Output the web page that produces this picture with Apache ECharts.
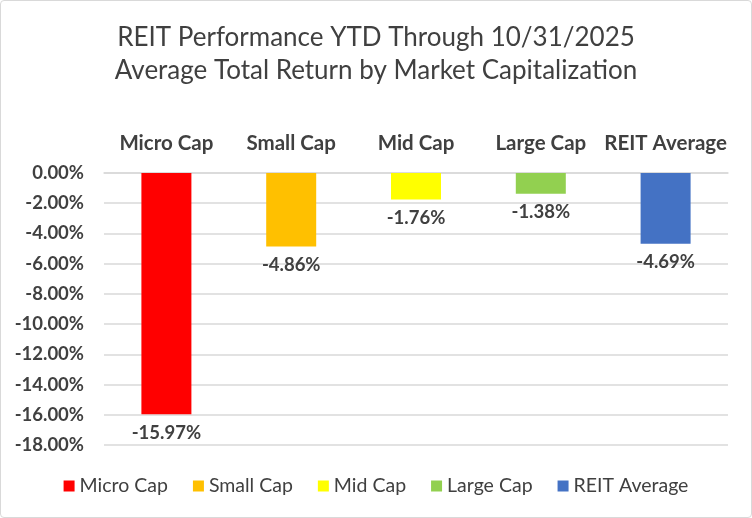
<!DOCTYPE html>
<html>
<head>
<meta charset="utf-8">
<script src="https://cdn.jsdelivr.net/npm/echarts@6/dist/echarts.min.js"></script>
<style>
html,body{margin:0;padding:0;background:#fff;}
#wrap{position:absolute;left:0;top:0;width:750px;height:516px;border:1px solid #d9d9d9;border-radius:4px;}
#chart{width:750px;height:516px;}
</style>
</head>
<body>
<div id="wrap"><div id="chart"></div></div>
<script>
const categories = ['Micro Cap', 'Small Cap', 'Mid Cap', 'Large Cap', 'REIT Average'];
const values = [-15.97, -4.86, -1.76, -1.38, -4.69];
const colors = ['#ff0000', '#ffc000', '#ffff00', '#92d050', '#4472c4'];
const titleLines = ['REIT Performance YTD Through 10/31/2025', 'Average Total Return by Market Capitalization'];

const FONT = 'Lato';
const TXT = '#404040';

const chart = echarts.init(document.getElementById('chart'));
const series = categories.map((name, i) => ({
  name: name,
  type: 'bar',
  stack: 'all',
  barWidth: 50,
  itemStyle: { color: colors[i] },
  data: categories.map((c, j) => j === i ? values[i] : '-'),
  label: {
    show: true,
    position: 'bottom',
    distance: 9,
    fontFamily: FONT,
    fontSize: 18.5,
    fontWeight: 'bold',
    color: TXT,
    formatter: p => p.value.toFixed(2) + '%'
  }
}));

chart.setOption({
  animation: false,
  textStyle: { fontFamily: FONT },
  title: {
    text: titleLines.join('\n'),
    left: 'center',
    top: 15,
    textStyle: { fontFamily: FONT, fontSize: 26, fontWeight: 'normal', color: TXT, lineHeight: 33 }
  },
  legend: {
    bottom: 16,
    left: 'center',
    itemWidth: 11,
    itemHeight: 11,
    itemGap: 25,
    icon: 'rect',
    textStyle: { fontFamily: FONT, fontSize: 19.5, color: TXT }
  },
  grid: { left: 103, right: 23, top: 172, bottom: 72, containLabel: false },
  xAxis: {
    type: 'category',
    position: 'top',
    data: categories,
    axisLine: { show: true, lineStyle: { color: '#d9d9d9', width: 1.5 } },
    axisTick: { show: false },
    axisLabel: { interval: 0, fontFamily: FONT, fontSize: 20.5, fontWeight: 'bold', color: TXT, margin: 19 }
  },
  yAxis: {
    type: 'value',
    min: -18,
    max: 0,
    interval: 2,
    axisLine: { show: false },
    axisTick: { show: false },
    splitLine: { lineStyle: { color: '#d9d9d9', width: 1.5 } },
    axisLabel: {
      fontFamily: FONT, fontSize: 18.5, fontWeight: 'bold', color: TXT, margin: 20,
      formatter: v => v.toFixed(2) + '%'
    }
  },
  series: series
});
</script>
</body>
</html>
